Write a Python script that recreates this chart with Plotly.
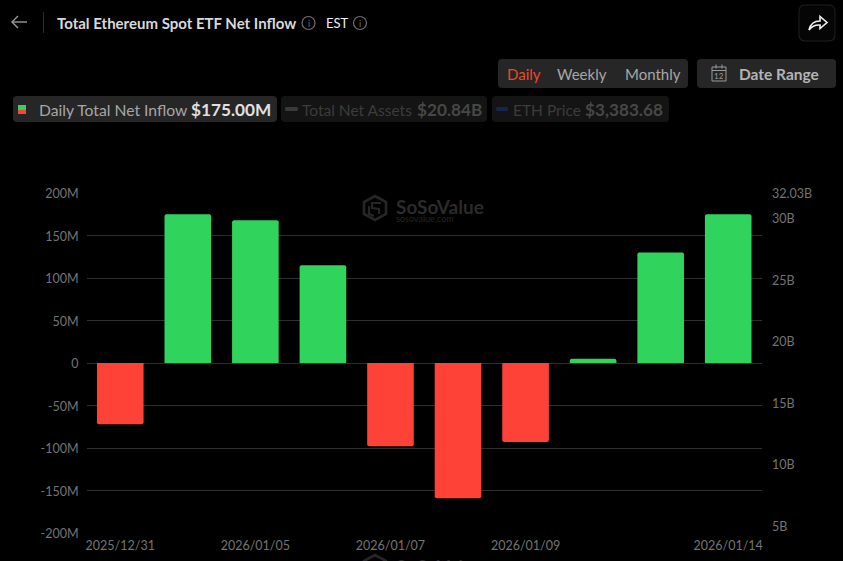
import plotly.graph_objects as go

W, H = 843, 561
dates = ["2025/12/31", "2026/01/02", "2026/01/05", "2026/01/06", "2026/01/07",
         "2026/01/08", "2026/01/09", "2026/01/12", "2026/01/13", "2026/01/14"]
net_inflow_m = [-72, 175, 168, 115, -98, -159, -93, 5, 130, 175]
x_tick_labels = ["2025/12/31", "2026/01/05", "2026/01/07", "2026/01/09", "2026/01/14"]
left_ticks = [-200, -150, -100, -50, 0, 50, 100, 150, 200]
left_labels = ["-200M", "-150M", "-100M", "-50M", "0", "50M", "100M", "150M", "200M"]
right_ticks = [5, 10, 15, 20, 25, 30, 32.03]
right_labels = ["5B", "10B", "15B", "20B", "25B", "30B", "32.03B"]

GREEN, RED = "#30D35C", "#FF4238"
FONT = "Lato"
TICK = "#747474"
GRID = "#2f2f2f"

def px(x): return x / W
def py(y): return 1 - y / H

shapes, annos = [], []

def path(cmds):
    out = []
    for c in cmds:
        out.append(c[0])
        vals = c[1:]
        for i in range(0, len(vals), 2):
            out.append(f"{px(vals[i]):.5f},{py(vals[i+1]):.5f}")
    return " ".join(out)

def rect(x0, y0, x1, y1, fill, r=0):
    shapes.append(dict(type="path", xref="paper", yref="paper", line=dict(width=0), fillcolor=fill, layer="below",
                       path=path([("M", x0 + r, y0), ("L", x1 - r, y0), ("Q", x1, y0, x1, y0 + r), ("L", x1, y1 - r),
                                  ("Q", x1, y1, x1 - r, y1), ("L", x0 + r, y1), ("Q", x0, y1, x0, y1 - r),
                                  ("L", x0, y0 + r), ("Q", x0, y0, x0 + r, y0), ("Z",)])))

def stroke(cmds, color, width=1.5, layer="above"):
    shapes.append(dict(type="path", xref="paper", yref="paper", path=path(cmds), line=dict(color=color, width=width), layer=layer))

def circle(cx, cy, r, color, width=1.2):
    shapes.append(dict(type="circle", xref="paper", yref="paper", x0=px(cx - r), x1=px(cx + r),
                       y0=py(cy + r), y1=py(cy - r), line=dict(color=color, width=width)))

def text(x, y, s, size, color, anchor="left", bold=False):
    annos.append(dict(xref="paper", yref="paper", x=px(x), y=py(y), text=f"<b>{s}</b>" if bold else s, showarrow=False,
                      xanchor=anchor, yanchor="middle", align=anchor, font=dict(family=FONT, size=size, color=color),
                      borderpad=0, borderwidth=0))

def logo(yc):
    c = "#262626"
    stroke([("M", 375, yc - 12), ("L", 386, yc - 6), ("L", 386, yc + 6), ("L", 375, yc + 12), ("L", 364, yc + 6),
            ("L", 364, yc - 6), ("Z",)], c, 2.6, "below")
    stroke([("M", 381, yc - 5), ("L", 372, yc - 5), ("L", 372, yc), ("L", 379, yc + 1), ("L", 379, yc + 6)], c, 2.2, "below")
    stroke([("M", 369, yc - 2), ("L", 369, yc + 6), ("L", 374, yc + 8)], c, 2.2, "below")
    text(396, yc - 1, "SoSoValue", 19, "#2b2b2b", bold=True)

# header
stroke([("M", 27, 22), ("L", 12, 22)], "#9a9a9a", 1.4)
stroke([("M", 18, 16), ("L", 12, 22), ("L", 18, 28)], "#9a9a9a", 1.4)
stroke([("M", 43.5, 12), ("L", 43.5, 33)], "#2e2e2e", 1)
text(57, 22.5, "Total Ethereum Spot ETF Net Inflow", 15, "#d9d9d9", bold=True)
circle(308.5, 23, 6.5, "#6e6e6e")
text(308.5, 23, "i", 9, "#6e6e6e", "center")
text(325.5, 22.5, "EST", 13, "#f0f0f0")
circle(360, 23, 6.5, "#6e6e6e")
text(360, 23, "i", 9, "#6e6e6e", "center")

# share button
rect(798.5, 4.5, 835.5, 41.5, "#1f1f1f", 7)
rect(799.5, 5.5, 834.5, 40.5, "#050505", 6)
stroke([("M", 809, 30), ("Q", 811, 21, 820, 21), ("L", 820, 16.5), ("L", 827, 22.5), ("L", 820, 28.5),
        ("L", 820, 25), ("Q", 813, 24.5, 809, 30), ("Z",)], "#efefef", 1.6)

# period selector
rect(498, 59, 688, 88, "#262626", 4)
text(506.5, 74, "Daily", 15, "#F0462A")
text(557, 74, "Weekly", 15, "#a6a6a6")
text(624.5, 74, "Monthly", 15, "#a6a6a6")
rect(697, 59, 836, 88, "#262626", 4)
stroke([("M", 712, 67), ("L", 726, 67), ("L", 726, 81), ("L", 712, 81), ("Z",)], "#9a9a9a", 1)
stroke([("M", 712, 70.5), ("L", 726, 70.5)], "#9a9a9a", 1)
stroke([("M", 716, 64.5), ("L", 716, 68.5)], "#9a9a9a", 1)
stroke([("M", 722, 64.5), ("L", 722, 68.5)], "#9a9a9a", 1)
text(719, 76, "12", 8, "#9a9a9a", "center")
text(739, 74, "Date Range", 15.5, "#b4b4b4", bold=True)

# legend chips
rect(13, 96, 277, 122, "#262626", 4)
rect(18, 105, 26, 110, GREEN)
rect(18, 110, 26, 114, RED)
text(38.5, 110, "Daily Total Net Inflow", 15.7, "#a6a6a6")
text(191, 110, "$175.00M", 17.2, "#e0e0e0", bold=True)
rect(281, 96, 487, 122, "#141414", 4)
rect(285, 107, 298, 111, "#3a3a3a", 1.5)
text(302, 110, "Total Net Assets", 15.5, "#3c3c3c")
text(416.5, 110, "$20.84B", 17.2, "#474747", bold=True)
rect(492, 96, 669, 122, "#141414", 4)
rect(496, 107, 508, 111, "#16274f", 1.5)
text(513, 110, "ETH Price", 15.5, "#3c3c3c")
text(585, 110, "$3,383.68", 17.2, "#474747", bold=True)

# watermarks
logo(208)
text(396, 218.5, "sosovalue.com", 9, "#242424")
logo(567)

fig = go.Figure()
idx = list(range(len(dates)))
fig.add_trace(go.Bar(x=idx, y=net_inflow_m, width=0.69, name="Daily Total Net Inflow",
                     marker=dict(color=[GREEN if v >= 0 else RED for v in net_inflow_m], line=dict(width=0)),
                     customdata=dates, hovertemplate="%{customdata}: %{y}M<extra></extra>"))
fig.add_trace(go.Scatter(x=idx, y=[None] * len(idx), yaxis="y2", mode="lines", name="Total Net Assets", showlegend=False))

fig.update_layout(
    width=W, height=H, margin=dict(l=0, r=0, t=0, b=0, pad=0), autosize=False,
    paper_bgcolor="#000000", plot_bgcolor="rgba(0,0,0,0)", showlegend=False, barcornerradius=2,
    font=dict(family=FONT, size=12.5, color=TICK), shapes=shapes, annotations=annos,
    xaxis=dict(domain=[px(86.5), px(762)], range=[-0.5, 9.5], tickmode="array", automargin=False,
               tickvals=[idx[dates.index(d)] for d in x_tick_labels], ticktext=x_tick_labels,
               showgrid=False, zeroline=False, showline=False, ticks="", anchor="y", ticklabelstandoff=3,
               tickangle=0, tickfont=dict(size=12.5, color=TICK)),
    yaxis=dict(domain=[py(533), py(193)], range=[-200, 200], tickmode="array", tickvals=left_ticks, automargin=False,
               ticktext=left_labels, gridcolor=GRID, gridwidth=1, zeroline=True, zerolinecolor=GRID,
               zerolinewidth=1, ticks="", ticklabelstandoff=7, ticklabelshift=1, tickfont=dict(size=12.5, color=TICK)),
    yaxis2=dict(domain=[py(533), py(193)], overlaying="y", side="right", anchor="x", range=[4.39, 32.03], automargin=False,
                tickmode="array", tickvals=right_ticks, ticktext=right_labels, showgrid=False, zeroline=False,
                showline=False, ticks="", ticklabelstandoff=9, ticklabelshift=1, tickfont=dict(size=12.5, color=TICK)),
)
css = ("var s=document.createElement('style');"
       "s.textContent='html,body{margin:0!important;padding:0!important;background:#000;overflow:hidden}"
       ".plotly-graph-div{position:absolute!important;left:0;top:0}';"
       "document.head.appendChild(s);")
fig.write_html("out.html", config=dict(displayModeBar=False), post_script=css)
